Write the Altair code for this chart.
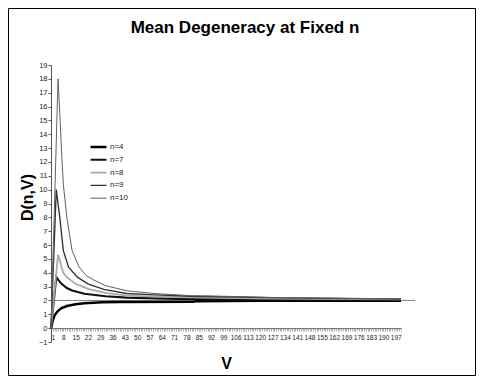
import altair as alt
import pandas as pd

# ---- data ----
SERIES = ["n=4", "n=7", "n=8", "n=9", "n=10"]

V_N4 = [1, 2, 3, 4, 5, 7, 10, 15, 20, 25, 30, 40, 82, 84, 120, 200]
D_N4 = [0, 0.55, 0.9, 1.1, 1.25, 1.45, 1.6, 1.73, 1.8, 1.84, 1.87, 1.89, 1.9, 1.95, 1.97, 1.98]

V_N7 = [1, 4, 5, 7, 10, 13, 20, 32, 44, 60, 80, 125, 200]
D_N7 = [0, 3.7, 3.5, 3.2, 2.9, 2.72, 2.48, 2.3, 2.2, 2.15, 2.1, 2.06, 2.04]

V_N8 = [1, 5, 6, 7, 8, 10, 15, 22, 32, 44, 60, 80, 107, 125, 174, 200]
D_N8 = [0, 5.3, 4.9, 4.4, 4.0, 3.68, 3.2, 2.84, 2.55, 2.35, 2.28, 2.22, 2.17, 2.14, 2.1, 2.08]

V_N9 = [1, 4, 5, 6, 7, 8, 11, 16, 22, 31, 44, 60, 80, 107, 125, 174, 200]
D_N9 = [0, 10.0, 9.0, 8.0, 6.8, 5.6, 4.4, 3.68, 3.2, 2.8, 2.5, 2.4, 2.3, 2.25, 2.2, 2.13, 2.1]

V_N10 = [1, 5, 6, 7, 8, 10, 13, 17, 21, 26, 32, 44, 60, 80, 107, 125, 174, 200]
D_N10 = [0, 18.0, 15.5, 12.8, 10.4, 8.0, 5.6, 4.4, 3.8, 3.43, 3.07, 2.7, 2.5, 2.35, 2.28, 2.22, 2.15, 2.12]

REF_Y = [2]
REF_X = [1]
REF_X2 = [208]

Y_TICKS = list(range(-1, 20))
X_TICKS = list(range(1, 201))

COLORS = ["#000000", "#111111", "#a8a8a8", "#333333", "#606060"]
WIDTHS = [2.5, 1.0, 3.0, 2.5, 1.0]

rows = []
for name, vs, ds in [("n=4", V_N4, D_N4), ("n=7", V_N7, D_N7), ("n=8", V_N8, D_N8),
                     ("n=9", V_N9, D_N9), ("n=10", V_N10, D_N10)]:
    for v, d in zip(vs, ds):
        rows.append({"series": name, "V": v, "D": d})
df = pd.DataFrame(rows)
ref_df = pd.DataFrame({"y": REF_Y, "x": REF_X, "x2": REF_X2})
frame_df = pd.DataFrame({"k": [0]})

W, H = 350, 277
FONT = "Liberation Sans"

xscale = alt.Scale(domain=[1, 200], nice=False, zero=False)
yscale = alt.Scale(domain=[-1, 19], nice=False, zero=False)

X_AXIS = alt.Axis(values=X_TICKS, labelExpr="(datum.value - 1) % 7 == 0 ? datum.label : ''",
                  labelOverlap=False, offset=-13.85, grid=False, tickSize=3,
                  domainColor="#666666", tickColor="#888888", tickWidth=0.6,
                  labelFont=FONT, labelFontSize=6.5, labelColor="#222222",
                  labelPadding=3, titleFont=FONT, titleFontSize=16,
                  titleFontWeight="bold", titleY=35, titleBaseline="middle",
                  titleColor="#000000")
Y_AXIS = alt.Axis(values=Y_TICKS, grid=False, tickSize=3, domainColor="#555555",
                  tickColor="#555555", labelFont=FONT, labelFontSize=7.5,
                  labelColor="#222222", labelPadding=1, labelOverlap=False,
                  titleFont=FONT, titleFontSize=16, titleFontWeight="bold",
                  titleAngle=-90, titleX=-24, titleY=132, titleBaseline="middle",
                  titleAlign="center", titleColor="#000000")

LEG = dict(orient="none", legendX=38, legendY=77, symbolType="stroke",
           symbolSize=256, labelFont=FONT, labelFontSize=8,
           labelColor="#222222", clipHeight=10, rowPadding=2.8,
           labelOffset=2, padding=0)

frame = alt.Chart(frame_df).mark_rect(filled=False, stroke="#000000", strokeWidth=1, clip=False).encode(
    x=alt.value(-42.5), x2=alt.value(424.5), y=alt.value(-56.5), y2=alt.value(310.5)
)

ref = alt.Chart(ref_df).mark_rule(color="#808080", strokeWidth=1, clip=False).encode(
    x=alt.X("x:Q", scale=xscale, title="V", axis=X_AXIS),
    x2="x2:Q",
    y=alt.Y("y:Q", scale=yscale, title="D(n,V)", axis=Y_AXIS),
)

lines = alt.Chart(df).mark_line(strokeJoin="miter").encode(
    x=alt.X("V:Q", scale=xscale, title="V", axis=X_AXIS),
    y=alt.Y("D:Q", scale=yscale, title="D(n,V)", axis=Y_AXIS),
    color=alt.Color("series:N", title=None,
                    scale=alt.Scale(domain=SERIES, range=COLORS),
                    legend=alt.Legend(**LEG)),
    strokeWidth=alt.StrokeWidth("series:N", title=None,
                                scale=alt.Scale(domain=SERIES, range=WIDTHS),
                                legend=alt.Legend(**LEG)),
    order=alt.Order("V:Q"),
)

chart = alt.layer(frame, ref, lines).properties(
    width=W, height=H,
    title=alt.TitleParams("Mean Degeneracy at Fixed n", font=FONT, fontSize=17,
                          fontWeight="bold", color="#000000", anchor="middle", frame="group",
                          offset=-28.5, dx=19),
    autosize=alt.AutoSizeParams(type="none"),
    padding={"left": 43, "top": 57, "right": 75, "bottom": 34},
).configure(background="#ffffff", view=alt.ViewConfig(stroke=None))

chart.save("out.html", embed_options={"renderer": "svg", "actions": False})
